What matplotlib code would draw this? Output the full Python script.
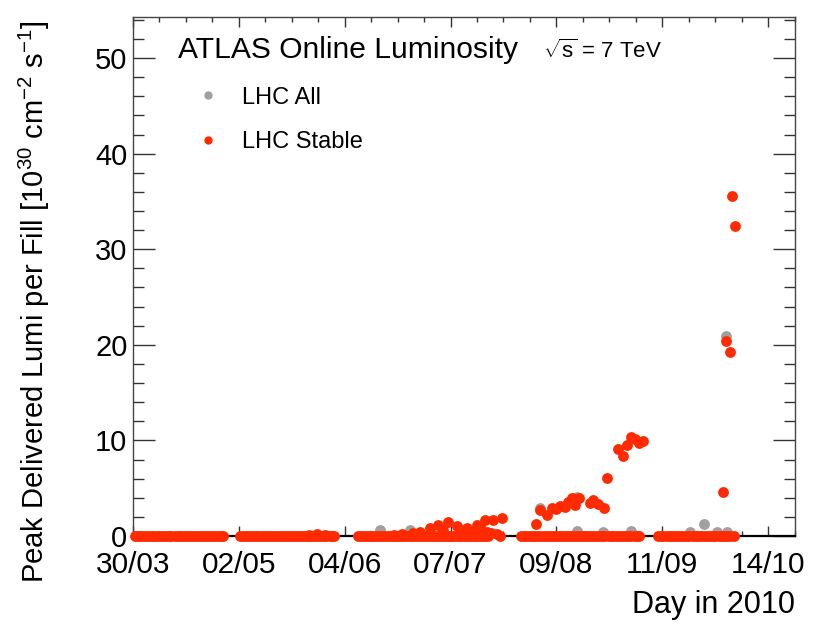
import matplotlib
matplotlib.use("Agg")
import matplotlib.pyplot as plt
from matplotlib.ticker import FixedLocator, MultipleLocator
from matplotlib.lines import Line2D

plt.rcParams['font.family'] = ['Liberation Sans', 'DejaVu Sans']
plt.rcParams['mathtext.fontset'] = 'custom'
plt.rcParams['mathtext.rm'] = 'Liberation Sans'
plt.rcParams['mathtext.it'] = 'Liberation Sans'
plt.rcParams['mathtext.bf'] = 'Liberation Sans:bold'

# ---- data: days since 30/03/2010 ----
tick_days = [0, 33, 66, 99, 132, 165, 198]
tick_labels = ['30/03', '02/05', '04/06', '07/07', '09/08', '11/09', '14/10']

# stable-beam fills with (near) zero peak luminosity
zero_days = [0.5, 1.4, 2.2, 3.1, 4.0, 4.9, 5.8, 6.6, 7.6, 8.5, 9.3, 10.3, 11.2, 12.0, 13.0,
             13.9, 14.8, 15.6, 16.6, 17.5, 18.3, 19.3, 20.2, 21.1, 22.0, 22.8, 23.8, 24.7,
             25.5, 26.5, 27.4, 28.2,
             33.4, 34.3, 35.1, 36.1, 37.0, 37.9, 38.7, 39.7, 40.6, 41.4, 42.4, 43.3, 44.2,
             45.1, 46.0, 46.8, 47.8, 48.7, 49.5, 50.5, 51.4, 52.3, 53.2, 54.1, 54.9, 55.9,
             56.8, 57.6, 58.6, 59.5, 60.3, 61.3, 62.2, 62.8,
             70.2, 71.1, 71.9, 72.9, 73.8, 74.6, 75.6, 76.5, 77.3, 78.3, 79.2, 80.0, 81.0,
             81.9, 82.7, 83.7, 84.6, 85.4, 86.4, 87.3, 88.1, 89.1, 90.0, 90.8, 91.8, 92.7,
             93.5, 94.5, 95.4, 96.2, 97.2, 98.1, 98.9, 99.9, 100.8, 101.6, 102.6, 103.5,
             104.3, 105.3, 106.2, 107.0, 108.0, 108.9, 109.8, 110.7, 114.4,
             121.0, 121.9, 122.7, 123.7, 124.6, 125.4, 126.4, 127.3, 128.1, 129.1, 130.0,
             130.8, 131.8, 132.7, 133.5, 134.5, 135.4, 136.2, 137.2, 138.1, 138.9, 139.9,
             140.8, 141.6, 142.6, 143.5, 144.3, 145.3, 146.2, 147.0, 148.0, 148.9, 149.7,
             150.7, 151.6, 152.4, 153.4, 154.3, 155.1, 156.1, 157.0, 157.8,
             163.7, 164.6, 165.4, 166.4, 167.3, 168.1, 169.1, 170.0, 170.8, 171.8, 172.7,
             173.5, 174.5, 175.4, 176.2, 177.2, 178.1, 178.9, 179.9, 180.8, 181.6, 182.6,
             183.5, 184.4, 185.3, 186.2, 187.4]
zero_lumi = [0.0] * len(zero_days)

# stable-beam fills with visible peak luminosity [1e30 cm^-2 s^-1]
stable_days = [55.0, 57.5, 59.8, 81.5, 84.0, 87.3, 89.5, 92.6, 95.1, 96.5, 98.2, 100.9,
               102.5, 104.1, 106.0, 107.2, 108.5, 109.8, 110.3, 111.5, 112.3, 113.5,
               115.0,
               125.7, 126.9, 129.0, 130.6, 131.9, 133.1, 134.7, 135.7, 136.8, 137.8,
               138.9, 142.5, 143.5, 145.1, 146.9, 147.7, 151.3, 152.7, 153.9, 155.2,
               156.5, 157.9, 159.1,
               183.8, 184.9, 186.2, 186.9, 187.7]
stable_lumi = [0.15, 0.2, 0.15, 0.15, 0.2, 0.3, 0.45, 0.8, 1.15, 0.6, 1.5, 1.0,
               0.5, 0.8, 0.4, 1.15, 0.7, 1.67, 0.45, 0.3, 1.67, 0.2,
               1.85,
               1.3, 2.7, 2.2, 2.9, 2.8, 3.1, 3.0, 3.6, 4.0, 3.2,
               4.0, 3.5, 3.8, 3.3, 2.9, 6.1, 9.1, 8.4, 9.5, 10.4,
               10.2, 9.7, 9.9,
               4.6, 20.4, 19.3, 35.6, 32.4]

# all fills (non-stable ones visible behind the stable ones)
all_days = [77.0, 86.4, 127.0, 138.4, 138.3, 146.6, 155.3, 173.8, 178.0, 182.2, 185.3, 184.9]
all_lumi = [0.6, 0.6, 2.9, 4.1, 0.5, 0.4, 0.5, 0.45, 1.3, 0.4, 0.4, 20.9]

red = '#ff2a00'
gray = '#a0a0a0'

fig = plt.figure(figsize=(8.38, 6.27), dpi=100)
ax = fig.add_axes([133/838, 1-536/627, 662/838, 519/627])

ms = 7.8
ax.plot(all_days, all_lumi, 'o', color=gray, ms=ms, mew=0, clip_on=False, zorder=3)
ax.plot(zero_days, zero_lumi, 'o', color=red, ms=ms, mew=0, clip_on=False, zorder=4)
ax.plot(stable_days, stable_lumi, 'o', color=red, ms=ms, mew=0, clip_on=False, zorder=4)

ax.set_xlim(0, 206.4)
ax.set_ylim(0, 54.3)

ax.xaxis.set_major_locator(FixedLocator(tick_days))
ax.set_xticklabels(tick_labels)
ax.xaxis.set_minor_locator(MultipleLocator(8.25))
ax.yaxis.set_major_locator(MultipleLocator(10))
ax.yaxis.set_minor_locator(MultipleLocator(2))

ax.tick_params(axis='both', which='both', direction='in', top=True, right=True,
               colors='#333333', labelcolor='black')
ax.tick_params(axis='y', which='major', length=16, width=1.0, labelsize=21, pad=4)
ax.tick_params(axis='y', which='minor', length=8, width=1.0)
ax.tick_params(axis='x', which='major', length=7.5, width=1.0, labelsize=21.5, pad=11)
ax.tick_params(axis='x', which='minor', length=3.8, width=1.0)

for s in ['left', 'right', 'top']:
    ax.spines[s].set_color('#444444')
    ax.spines[s].set_linewidth(1.0)
ax.spines['bottom'].set_color('black')
ax.spines['bottom'].set_linewidth(1.6)

ax.set_ylabel(r'Peak Delivered Lumi per Fill [10$^{30}$ cm$^{-2}$ s$^{-1}$]',
              fontsize=21, loc='top')
ax.yaxis.set_label_coords(-0.122, 0.994)
ax.set_xlabel('Day in 2010', fontsize=22, loc='right')
ax.xaxis.set_label_coords(1.0, -0.104)

ax.text(0.068, 0.921, 'ATLAS Online Luminosity', transform=ax.transAxes,
        fontsize=21.6, ha='left', va='baseline')
ax.text(0.619, 0.921, r'$\sqrt{s}$ = 7 TeV', transform=ax.transAxes,
        fontsize=16, ha='left', va='baseline')

handles = [Line2D([], [], ls='none', marker='o', color=gray, ms=6, mew=0),
           Line2D([], [], ls='none', marker='o', color=red, ms=6, mew=0)]
ax.legend(handles, ['LHC All', 'LHC Stable'], loc='upper left',
          bbox_to_anchor=(0.095, 0.866), frameon=False, fontsize=17,
          handlelength=1.0, handletextpad=0.95, labelspacing=0.96,
          borderpad=0, borderaxespad=0, numpoints=1)

fig.savefig('out.png', dpi=100)
